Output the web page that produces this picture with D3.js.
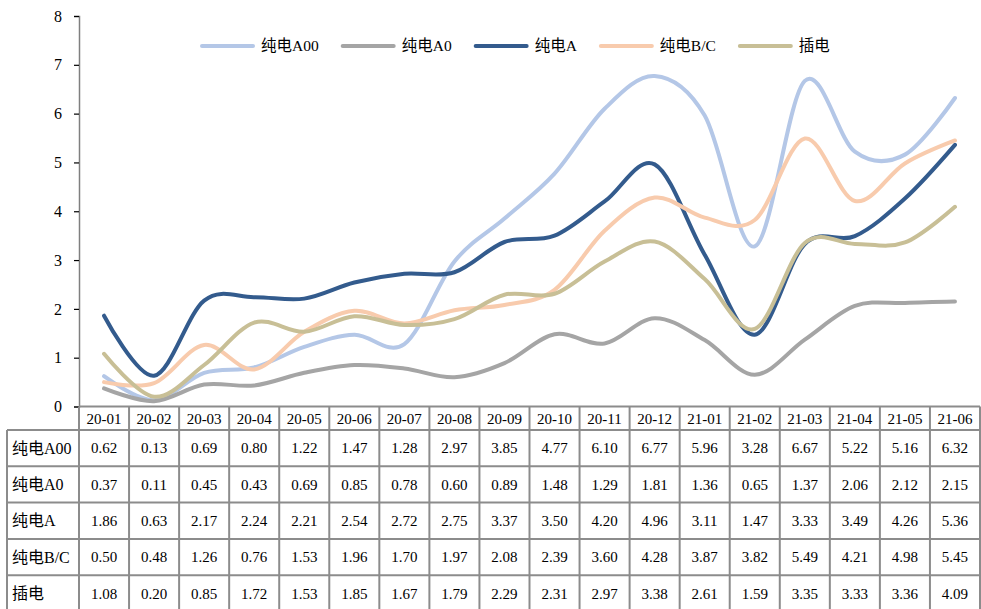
<!DOCTYPE html>
<html>
<head>
<meta charset="utf-8">
<script src="https://cdn.jsdelivr.net/npm/d3@7"></script>
<style>
  body { margin: 0; background: #fff; }
  text { font-family: "Liberation Serif", "Noto Sans CJK SC", serif; fill: #000; }
</style>
</head>
<body>
<svg id="chart" width="981" height="609"></svg>
<script>
// months along the x axis
var months = ["20-01", "20-02", "20-03", "20-04", "20-05", "20-06", "20-07", "20-08", "20-09",
              "20-10", "20-11", "20-12", "21-01", "21-02", "21-03", "21-04", "21-05", "21-06"];

var seriesNames = ["纯电A00", "纯电A0", "纯电A", "纯电B/C", "插电"];
var seriesColors = ["#b4c7e7", "#a5a5a5", "#335b8d", "#f8cbad", "#c8bf96"];

var valsA00 = [0.62, 0.13, 0.69, 0.80, 1.22, 1.47, 1.28, 2.97, 3.85, 4.77, 6.10, 6.77, 5.96, 3.28, 6.67, 5.22, 5.16, 6.32];
var valsA0  = [0.37, 0.11, 0.45, 0.43, 0.69, 0.85, 0.78, 0.60, 0.89, 1.48, 1.29, 1.81, 1.36, 0.65, 1.37, 2.06, 2.12, 2.15];
var valsA   = [1.86, 0.63, 2.17, 2.24, 2.21, 2.54, 2.72, 2.75, 3.37, 3.50, 4.20, 4.96, 3.11, 1.47, 3.33, 3.49, 4.26, 5.36];
var valsBC  = [0.50, 0.48, 1.26, 0.76, 1.53, 1.96, 1.70, 1.97, 2.08, 2.39, 3.60, 4.28, 3.87, 3.82, 5.49, 4.21, 4.98, 5.45];
var valsPHEV = [1.08, 0.20, 0.85, 1.72, 1.53, 1.85, 1.67, 1.79, 2.29, 2.31, 2.97, 3.38, 2.61, 1.59, 3.35, 3.33, 3.36, 4.09];

var yTicks = [0, 1, 2, 3, 4, 5, 6, 7, 8];

var allSeries = [valsA00, valsA0, valsA, valsBC, valsPHEV];

var svg = d3.select("#chart");
var plotLeft = 79, plotRight = 980, plotTop = 16, plotBottom = 406.5;
var tableLeft = 7, headerH = 23.5, rowH = 36.3;
var gridColor = "#8c8c8c";

var x = d3.scaleBand().domain(months).range([plotLeft, plotRight]);
var y = d3.scaleLinear().domain([0, 8]).range([plotBottom, plotTop]);

// y axis
var yAxis = svg.append("g")
  .attr("transform", "translate(" + plotLeft + ",0)")
  .call(d3.axisLeft(y).tickValues(yTicks).tickSize(5).tickPadding(12).tickFormat(d3.format("d")));
yAxis.select(".domain").attr("stroke", "#7f7f7f").attr("stroke-width", 1.5);
yAxis.selectAll(".tick line").attr("stroke", "#000").attr("stroke-width", 1.2);
yAxis.selectAll(".tick text").style("font-size", "16px")
  .style("font-family", "'Liberation Serif', serif").attr("fill", "#000");

// lines (Excel-style smoothing)
var line = d3.line()
  .x(function(d, i) { return x(months[i]) + x.bandwidth() / 2; })
  .y(function(d) { return y(d); })
  .curve(d3.curveCardinal.tension(0));

svg.selectAll("path.series")
  .data(allSeries)
  .enter().append("path")
  .attr("class", "series")
  .attr("d", line)
  .attr("fill", "none")
  .attr("stroke", function(d, i) { return seriesColors[i]; })
  .attr("stroke-width", 4)
  .attr("stroke-linecap", "round")
  .attr("stroke-linejoin", "round");

// legend
var legend = svg.append("g").attr("transform", "translate(200,46)");
var lx = 0;
seriesNames.forEach(function(name, i) {
  var g = legend.append("g").attr("transform", "translate(" + lx + ",0)");
  g.append("line")
    .attr("x1", 2).attr("x2", 53).attr("y1", 0).attr("y2", 0)
    .attr("stroke", seriesColors[i]).attr("stroke-width", 4).attr("stroke-linecap", "round");
  var t = g.append("text").attr("x", 61).attr("y", 0).attr("dy", "0.35em")
    .style("font-size", "15.5px").text(name);
  lx += 61 + t.node().getComputedTextLength() + 22;
});

// data table
var table = svg.append("g");
var tableBottom = plotBottom + headerH + rowH * seriesNames.length;

// header row labels
table.selectAll("text.month")
  .data(months)
  .enter().append("text")
  .attr("class", "month")
  .attr("x", function(d) { return x(d) + x.bandwidth() / 2; })
  .attr("y", plotBottom + headerH / 2)
  .attr("dy", "0.35em")
  .attr("text-anchor", "middle")
  .style("font-size", "15px")
  .text(function(d) { return d; });

// row labels and values
seriesNames.forEach(function(name, r) {
  var cy = plotBottom + headerH + rowH * r + rowH / 2;
  table.append("text")
    .attr("x", tableLeft + 5).attr("y", cy).attr("dy", "0.35em")
    .style("font-size", "16px").text(name);
  table.selectAll("text.v" + r)
    .data(allSeries[r])
    .enter().append("text")
    .attr("class", "v" + r)
    .attr("x", function(d, i) { return x(months[i]) + x.bandwidth() / 2; })
    .attr("y", cy).attr("dy", "0.35em")
    .attr("text-anchor", "middle")
    .style("font-size", "15px")
    .text(function(d) { return d.toFixed(2); });
});

// grid lines
var grid = table.append("g").attr("stroke", gridColor).attr("stroke-width", 2);
grid.append("line").attr("x1", plotLeft).attr("x2", plotRight).attr("y1", plotBottom).attr("y2", plotBottom);
for (var r = 0; r <= seriesNames.length; r++) {
  var yy = plotBottom + headerH + rowH * r;
  grid.append("line").attr("x1", tableLeft).attr("x2", plotRight).attr("y1", yy).attr("y2", yy);
}
grid.append("line").attr("x1", tableLeft).attr("x2", tableLeft)
  .attr("y1", plotBottom + headerH).attr("y2", tableBottom);
months.forEach(function(m) {
  grid.append("line").attr("x1", x(m)).attr("x2", x(m)).attr("y1", plotBottom).attr("y2", tableBottom);
});
grid.append("line").attr("x1", plotRight).attr("x2", plotRight).attr("y1", plotBottom).attr("y2", tableBottom);
</script>
</body>
</html>
